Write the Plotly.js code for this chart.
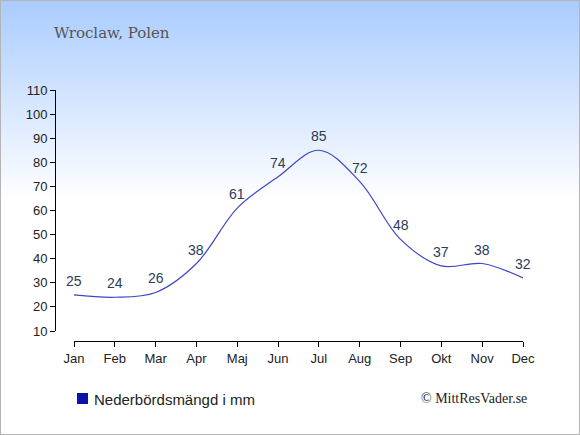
<!DOCTYPE html>
<html>
<head>
<meta charset="utf-8">
<script src="https://cdn.plot.ly/plotly-3.0.1.min.js"></script>
<style>
html,body{margin:0;padding:0;}
#wrap{position:relative;width:578px;height:433px;border:1px solid #b4b4b4;background:linear-gradient(to bottom,#aaccff 0px,#ffffff 200px,#ffffff 100%);}
#chart{width:578px;height:433px;}
</style>
</head>
<body>
<div id="wrap"><div id="chart"></div></div>
<script>
var months = ["Jan","Feb","Mar","Apr","Maj","Jun","Jul","Aug","Sep","Okt","Nov","Dec"];
var precip = [25,24,26,38,61,74,85,72,48,37,38,32];
var yTicks = [10,20,30,40,50,60,70,80,90,100,110];
var titleText = "Wroclaw, Polen";
var legendText = "Nederbördsmängd i mm";
var creditText = "© MittResVader.se";

var xIdx = months.map(function(m,i){return i;});

var trace = {
  x: xIdx,
  y: precip,
  mode: "lines",
  type: "scatter",
  line: {shape:"spline", smoothing:1, color:"#3c46c8", width:1.2},
  cliponaxis: false,
  hoverinfo: "none",
  showlegend: false
};

var W = 578, H = 433;
var mL = 54, mR = W - 522, mT = 89, mB = H - 340;
var plotW = W - mL - mR, plotH = H - mT - mB;

var labelAnns = precip.map(function(v,i){
  return {xref:"x", yref:"y", x:i, y:v, text:String(v), showarrow:false,
          xanchor:"center", yanchor:"middle", yshift:14,
          font:{family:"Liberation Sans, Arial, sans-serif", size:14, color:"#2b3b5c"}};
});

var layout = {
  width: W, height: H,
  margin: {l:mL, r:mR, t:mT, b:mB, pad:0},
  paper_bgcolor: "rgba(0,0,0,0)",
  plot_bgcolor: "rgba(0,0,0,0)",
  showlegend: false,
  font: {family:"Liberation Sans, Arial, sans-serif", size:13, color:"#222"},
  xaxis: {
    domain: [(73-mL)/plotW, 1],
    anchor: "free", position: 0,
    range: [0, 11],
    tickmode: "array",
    tickvals: xIdx,
    ticktext: months,
    showline: true, linecolor: "#000", linewidth: 1,
    ticks: "outside", ticklen: 5, tickcolor: "#000",
    showgrid: false, zeroline: false,
    tickfont: {size:13, color:"#222"}
  },
  yaxis: {
    domain: [(340-330)/plotH, 1],
    anchor: "free", position: 0,
    range: [10, 110],
    tickmode: "array",
    tickvals: yTicks,
    showline: true, linecolor: "#000", linewidth: 1,
    ticks: "outside", ticklen: 5, tickcolor: "#000",
    showgrid: false, zeroline: false,
    tickfont: {size:13, color:"#222"}
  },
  annotations: [
    {xref:"paper", yref:"paper", x:(51-mL)/plotW, y:((H-mB) - 32) / plotH, xanchor:"left", yanchor:"middle",
     text:titleText, showarrow:false,
     font:{family:"DejaVu Serif, Liberation Serif, serif", size:15, color:"#555"}},
    {xref:"paper", yref:"paper", x:(91-mL)/plotW, y:-(398-(H-mB))/plotH, xanchor:"left", yanchor:"middle",
     text:legendText, showarrow:false,
     font:{family:"Liberation Sans, Arial, sans-serif", size:15, color:"#222"}},
    {xref:"paper", yref:"paper", x:(528-mL)/plotW, y:-(397-(H-mB))/plotH, xanchor:"right", yanchor:"middle",
     text:creditText, showarrow:false,
     font:{family:"Liberation Serif, DejaVu Serif, serif", size:14, color:"#222"}}
  ].concat(labelAnns),
  shapes: [
    {type:"rect", xref:"paper", yref:"paper",
     x0:(76-mL)/plotW, x1:(87-mL)/plotW,
     y0:-(403-(H-mB))/plotH, y1:-(392-(H-mB))/plotH,
     fillcolor:"#0a14a8", line:{width:0}}
  ]
};

Plotly.newPlot("chart", [trace], layout, {staticPlot:true, displayModeBar:false});
</script>
</body>
</html>
